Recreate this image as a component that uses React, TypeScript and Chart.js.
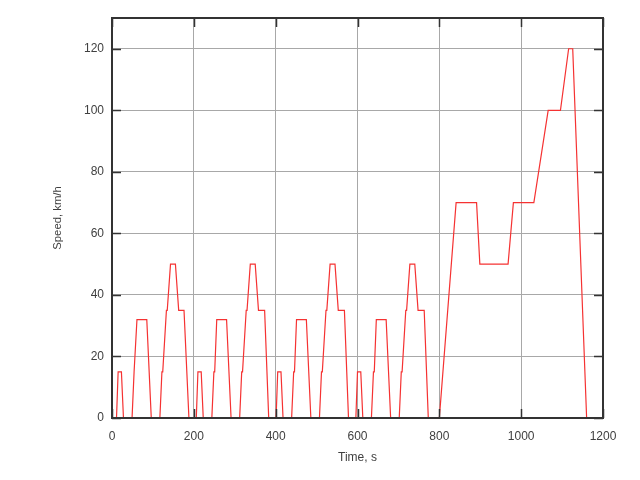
import { useEffect, useRef } from 'react';
import { Chart, registerables } from 'chart.js';

Chart.register(...registerables);

// NEDC: urban ECE-15 cycle (repeated 4 times) followed by the extra-urban EUDC part
const eceTime = [0, 11, 15, 23, 28, 49, 54, 56, 61, 85, 96, 117, 122, 124, 133, 135, 143, 155, 163, 176, 178, 188, 195];
const eceSpeed = [0, 0, 15, 15, 0, 0, 15, 15, 32, 32, 0, 0, 15, 15, 35, 35, 50, 50, 35, 35, 35, 0, 0];
const eceStarts = [0, 195, 390, 585];
const eudcTime = [800, 841, 891, 899, 968, 981, 1031, 1066, 1096, 1116, 1126, 1160, 1180];
const eudcSpeed = [0, 70, 70, 50, 50, 70, 70, 100, 100, 120, 120, 0, 0];

const xTickValues = [0, 200, 400, 600, 800, 1000, 1200];
const yTickValues = [0, 20, 40, 60, 80, 100, 120];

const xTitle = 'Time, s';
const yTitle = 'Speed, km/h';

const FONT = '"Liberation Sans", Arial, sans-serif';
const TEXT = '#404040';

function buildPoints() {
  const pts: { x: number; y: number }[] = [];
  eceStarts.forEach((start) => {
    eceTime.forEach((t, i) => pts.push({ x: start + t, y: eceSpeed[i] }));
  });
  eudcTime.forEach((t, i) => pts.push({ x: t, y: eudcSpeed[i] }));
  return pts;
}

const framePlugin = {
  id: 'frame',
  afterDatasetsDraw(chart: any) {
    const { ctx, chartArea } = chart;
    const { left, right, top, bottom } = chartArea;
    const xs = chart.scales.x;
    const ys = chart.scales.y;
    const L = Math.round(left);
    const R = Math.round(right);
    const T = Math.round(top);
    const B = Math.round(bottom);
    ctx.save();
    ctx.strokeStyle = '#333';
    ctx.lineWidth = 1.5;
    const tl = 9;
    ctx.beginPath();
    xTickValues.forEach((v) => {
      const px = Math.round(xs.getPixelForValue(v)) + 0.5;
      ctx.moveTo(px, B);
      ctx.lineTo(px, B - tl);
      ctx.moveTo(px, T);
      ctx.lineTo(px, T + tl);
    });
    yTickValues.forEach((v) => {
      const py = Math.round(ys.getPixelForValue(v)) + 0.5;
      ctx.moveTo(L, py);
      ctx.lineTo(L + tl, py);
      ctx.moveTo(R, py);
      ctx.lineTo(R - tl, py);
    });
    ctx.stroke();
    ctx.lineWidth = 2;
    ctx.strokeRect(L, T, R - L, B - T);
    ctx.restore();
  },
};

export default function App() {
  const ref = useRef<HTMLCanvasElement | null>(null);

  useEffect(() => {
    document.body.style.margin = '0';
    if (!ref.current) return;
    const chart = new Chart(ref.current, {
      type: 'scatter',
      data: {
        datasets: [
          {
            data: buildPoints(),
            showLine: true,
            borderColor: 'rgb(245, 50, 50)',
            backgroundColor: 'rgb(245, 50, 50)',
            borderWidth: 1.2,
            pointRadius: 0,
            tension: 0,
          },
        ],
      },
      options: {
        animation: false,
        responsive: false,
        devicePixelRatio: 1,
        layout: { padding: { left: 0, right: 37, top: 18, bottom: 0 } },
        plugins: { legend: { display: false }, tooltip: { enabled: false } },
        scales: {
          x: {
            type: 'linear',
            min: 0,
            max: 1200,
            afterBuildTicks: (s: any) => {
              s.ticks = xTickValues.map((v) => ({ value: v }));
            },
            afterFit: (s: any) => {
              s.height = 62;
            },
            grid: { color: '#a8a8a8', lineWidth: 1, drawTicks: false },
            border: { display: false },
            ticks: {
              padding: 11,
              color: TEXT,
              font: { family: FONT, size: 12 },
              maxRotation: 0,
              callback: (v: any) => String(v),
            },
            title: {
              display: true,
              text: xTitle,
              color: TEXT,
              font: { family: FONT, size: 12 },
              padding: { top: 0, bottom: 15 },
            },
          },
          y: {
            type: 'linear',
            min: 0,
            max: 130,
            afterBuildTicks: (s: any) => {
              s.ticks = yTickValues.map((v) => ({ value: v }));
            },
            afterFit: (s: any) => {
              s.width = 112;
            },
            grid: { color: '#a8a8a8', lineWidth: 1, drawTicks: false },
            border: { display: false },
            ticks: {
              padding: 8,
              color: TEXT,
              font: { family: FONT, size: 12 },
              callback: (v: any) => String(v),
            },
            title: {
              display: true,
              text: yTitle,
              color: TEXT,
              font: { family: FONT, size: 11.3 },
              padding: { top: 51, bottom: 0 },
            },
          },
        },
      },
      plugins: [framePlugin],
    });
    return () => chart.destroy();
  }, []);

  return (
    <div style={{ position: 'fixed', left: 0, top: 0, width: 640, height: 480, background: '#fff' }}>
      <canvas ref={ref} width={640} height={480} />
    </div>
  );
}
